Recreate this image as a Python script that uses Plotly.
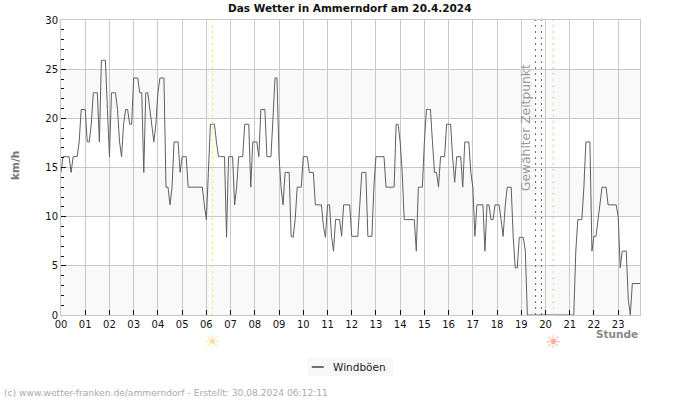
import plotly.graph_objects as go

h00 = [14.5,16.1,16.1,16.1,16.1,14.5,16.1,16.1,16.1,17.6,20.9,20.9]
h01 = [20.9,17.6,17.6,19.4,22.6,22.6,22.6,17.6,25.9,25.9,25.9,20.9]
h02 = [16.1,22.6,22.6,22.6,20.9,17.6,16.1,19.4,20.9,20.9,19.4,19.4]
h03 = [24.1,24.1,24.1,22.6,22.6,14.5,22.6,22.6,20.9,19.4,17.6,19.4]
h04 = [22.6,24.1,24.1,24.1,13.0,13.0,11.2,13.0,17.6,17.6,17.6,14.5]
h05 = [16.1,16.1,16.1,13.0,13.0,13.0,13.0,13.0,13.0,13.0,13.0,11.2]
h06 = [9.7,14.5,19.4,19.4,19.4,17.6,16.1,16.1,16.1,16.1,7.9,16.1]
h07 = [16.1,16.1,11.2,13.0,16.1,16.1,16.1,19.4,19.4,19.4,13.0,17.6]
h08 = [17.6,17.6,16.1,20.9,20.9,20.9,16.1,16.1,16.1,20.0,24.1,24.1]
h09 = [16.1,13.0,11.2,14.5,14.5,14.5,8.0,7.9,9.7,13.0,13.0,13.0]
h10 = [16.1,16.1,16.1,14.5,14.5,14.5,11.2,11.2,11.2,11.2,9.0,7.9]
h11 = [11.2,11.2,8.0,6.5,9.7,9.7,9.7,8.0,11.2,11.2,11.2,11.2]
h12 = [8.0,8.0,8.0,8.0,11.2,14.5,14.5,14.5,8.0,8.0,8.0,13.0]
h13 = [16.1,16.1,16.1,16.1,16.1,13.0,13.0,13.0,13.0,13.0,19.4,19.4]
h14 = [17.6,14.5,9.7,9.7,9.7,9.7,9.7,9.7,6.5,13.0,13.0,13.0]
h15 = [17.6,20.9,20.9,20.9,17.6,14.5,14.5,13.0,16.1,16.1,16.1,19.4]
h16 = [19.4,19.4,16.0,13.5,16.1,16.1,16.1,13.0,17.6,17.6,17.6,14.5]
h17 = [13.0,8.0,11.2,11.2,11.2,11.2,6.5,11.2,11.2,9.7,9.7,11.2]
h18 = [11.2,11.2,9.7,8.0,11.0,13.0,13.0,13.0,7.9,4.8,4.8,7.9]
h19 = [7.9,7.9,6.5,0,0,0,0,0,0,0,0,0]
h20 = [0,0,0,0,0,0,0,0,0,0,0,0]
h21 = [0,0,0,6.5,9.7,9.7,9.7,13.0,17.6,17.6,17.6,6.5]
h22 = [8.0,8.0,9.7,11.0,13.0,13.0,13.0,11.2,11.2,11.2,11.2,11.2]
h23 = [10.0,4.8,6.5,6.5,6.5,1.6,0,3.2,3.2,3.2,3.2,3.2]
hours = [h00,h01,h02,h03,h04,h05,h06,h07,h08,h09,h10,h11,h12,h13,h14,h15,h16,h17,h18,h19,h20,h21,h22,h23]
gusts = [v for h in hours for v in h]
times = [i * 5 / 60 for i in range(len(gusts))]

tick_hours = list(range(24))
tick_labels = [f"{h:02d}" for h in tick_hours]
bands = [(0, 5), (10, 15), (20, 25)]
sunrise, sunset = 6.25, 20.32
selected = [19.59, 19.83]
GRID = "#c8c8c8"
FONT = "DejaVu Sans"

# screen-pixel helpers: plot area is 61..640.5 x 20..315
PL, PR, PT, PB = 61, 640.5, 20, 315
def px(X): return (X - PL) / (PR - PL)
def py(Y): return 1 - (Y - PT) / (PB - PT)

fig = go.Figure()
fig.add_trace(go.Scatter(x=times, y=gusts, mode="lines", name="Windböen",
                         line=dict(color="#606060", width=1), showlegend=False))

shapes = [dict(type="rect", xref="paper", yref="y", x0=0, x1=1, y0=a, y1=b,
               fillcolor="#f9f9f9", line_width=0, layer="below") for a, b in bands]
for xv, col in [(sunrise, "#f5e84a"), (sunset, "#f5c27a"), (selected[0], "#666666"), (selected[1], "#666666")]:
    shapes.append(dict(type="line", xref="x", yref="paper", x0=xv, x1=xv, y0=0, y1=1,
                       line=dict(color=col, width=1, dash="2px,4px")))
shapes.append(dict(type="rect", xref="paper", yref="paper", x0=px(308), x1=px(393), y0=py(358), y1=py(376),
                   fillcolor="#f8f8f8", line_width=0))
shapes.append(dict(type="line", xref="paper", yref="paper", x0=px(312), x1=px(324), y0=py(367), y1=py(367),
                   line=dict(color="#444444", width=1.5)))

def note(text, X, Y, size, color, xanchor="center", angle=0):
    return dict(text=text, xref="paper", yref="paper", x=px(X), y=py(Y), xanchor=xanchor, yanchor="middle",
                textangle=angle, showarrow=False, font=dict(family=FONT, size=size, color=color))

annots = [
    note("<b>Das Wetter in Ammerndorf am 20.4.2024</b>", 350, 8, 10.5, "#111111"),
    note("<b>km/h</b>", 15, 166, 10.5, "#777777", angle=-90),
    note("<b>Stunde</b>", 641, 334, 10.5, "#888888", xanchor="right"),
    note("(c) www.wetter-franken.de/ammerndorf - Erstellt: 30.08.2024 06:12:11", 2, 393, 9.15, "#aaaaaa", xanchor="left"),
    note("Windböen", 331, 367, 10.5, "#222222", xanchor="left"),
    note("Gewählter Zeitpunkt", 527, 127.5, 12.3, "#999999", angle=-90),
    dict(text="☀", x=sunrise, y=py(341), xref="x", yref="paper", yanchor="middle", showarrow=False,
         font=dict(family=FONT, size=18, color="#fde29a")),
    dict(text="☀", x=sunset, y=py(341), xref="x", yref="paper", yanchor="middle", showarrow=False,
         font=dict(family=FONT, size=18, color="#fdb09a")),
]

fig.update_layout(
    width=700, height=400, autosize=False,
    margin=dict(l=PL, r=700 - PR, t=PT, b=400 - PB, autoexpand=False),
    paper_bgcolor="white", plot_bgcolor="white",
    font=dict(family=FONT, size=10, color="#111111"),
    shapes=shapes, annotations=annots, showlegend=False,
    xaxis=dict(range=[0, 23.9], tickvals=tick_hours, ticktext=tick_labels, tickangle=0,
               ticks="inside", ticklen=5, tickcolor="#111111", showgrid=True, gridcolor=GRID, gridwidth=1,
               showline=True, linecolor=GRID, mirror=True, zeroline=False),
    yaxis=dict(range=[0, 30], tickvals=[0, 5, 10, 15, 20, 25, 30], ticks="inside", ticklen=5, tickcolor="#111111",
               showgrid=True, gridcolor=GRID, gridwidth=1, showline=True, linecolor=GRID, mirror=True, zeroline=False,
               minor=dict(dtick=1, ticks="inside", ticklen=2.5, tickcolor="#111111", showgrid=False)),
)
fig.write_html("out.html", config=dict(displayModeBar=False), post_script="document.body.style.margin='0';")
